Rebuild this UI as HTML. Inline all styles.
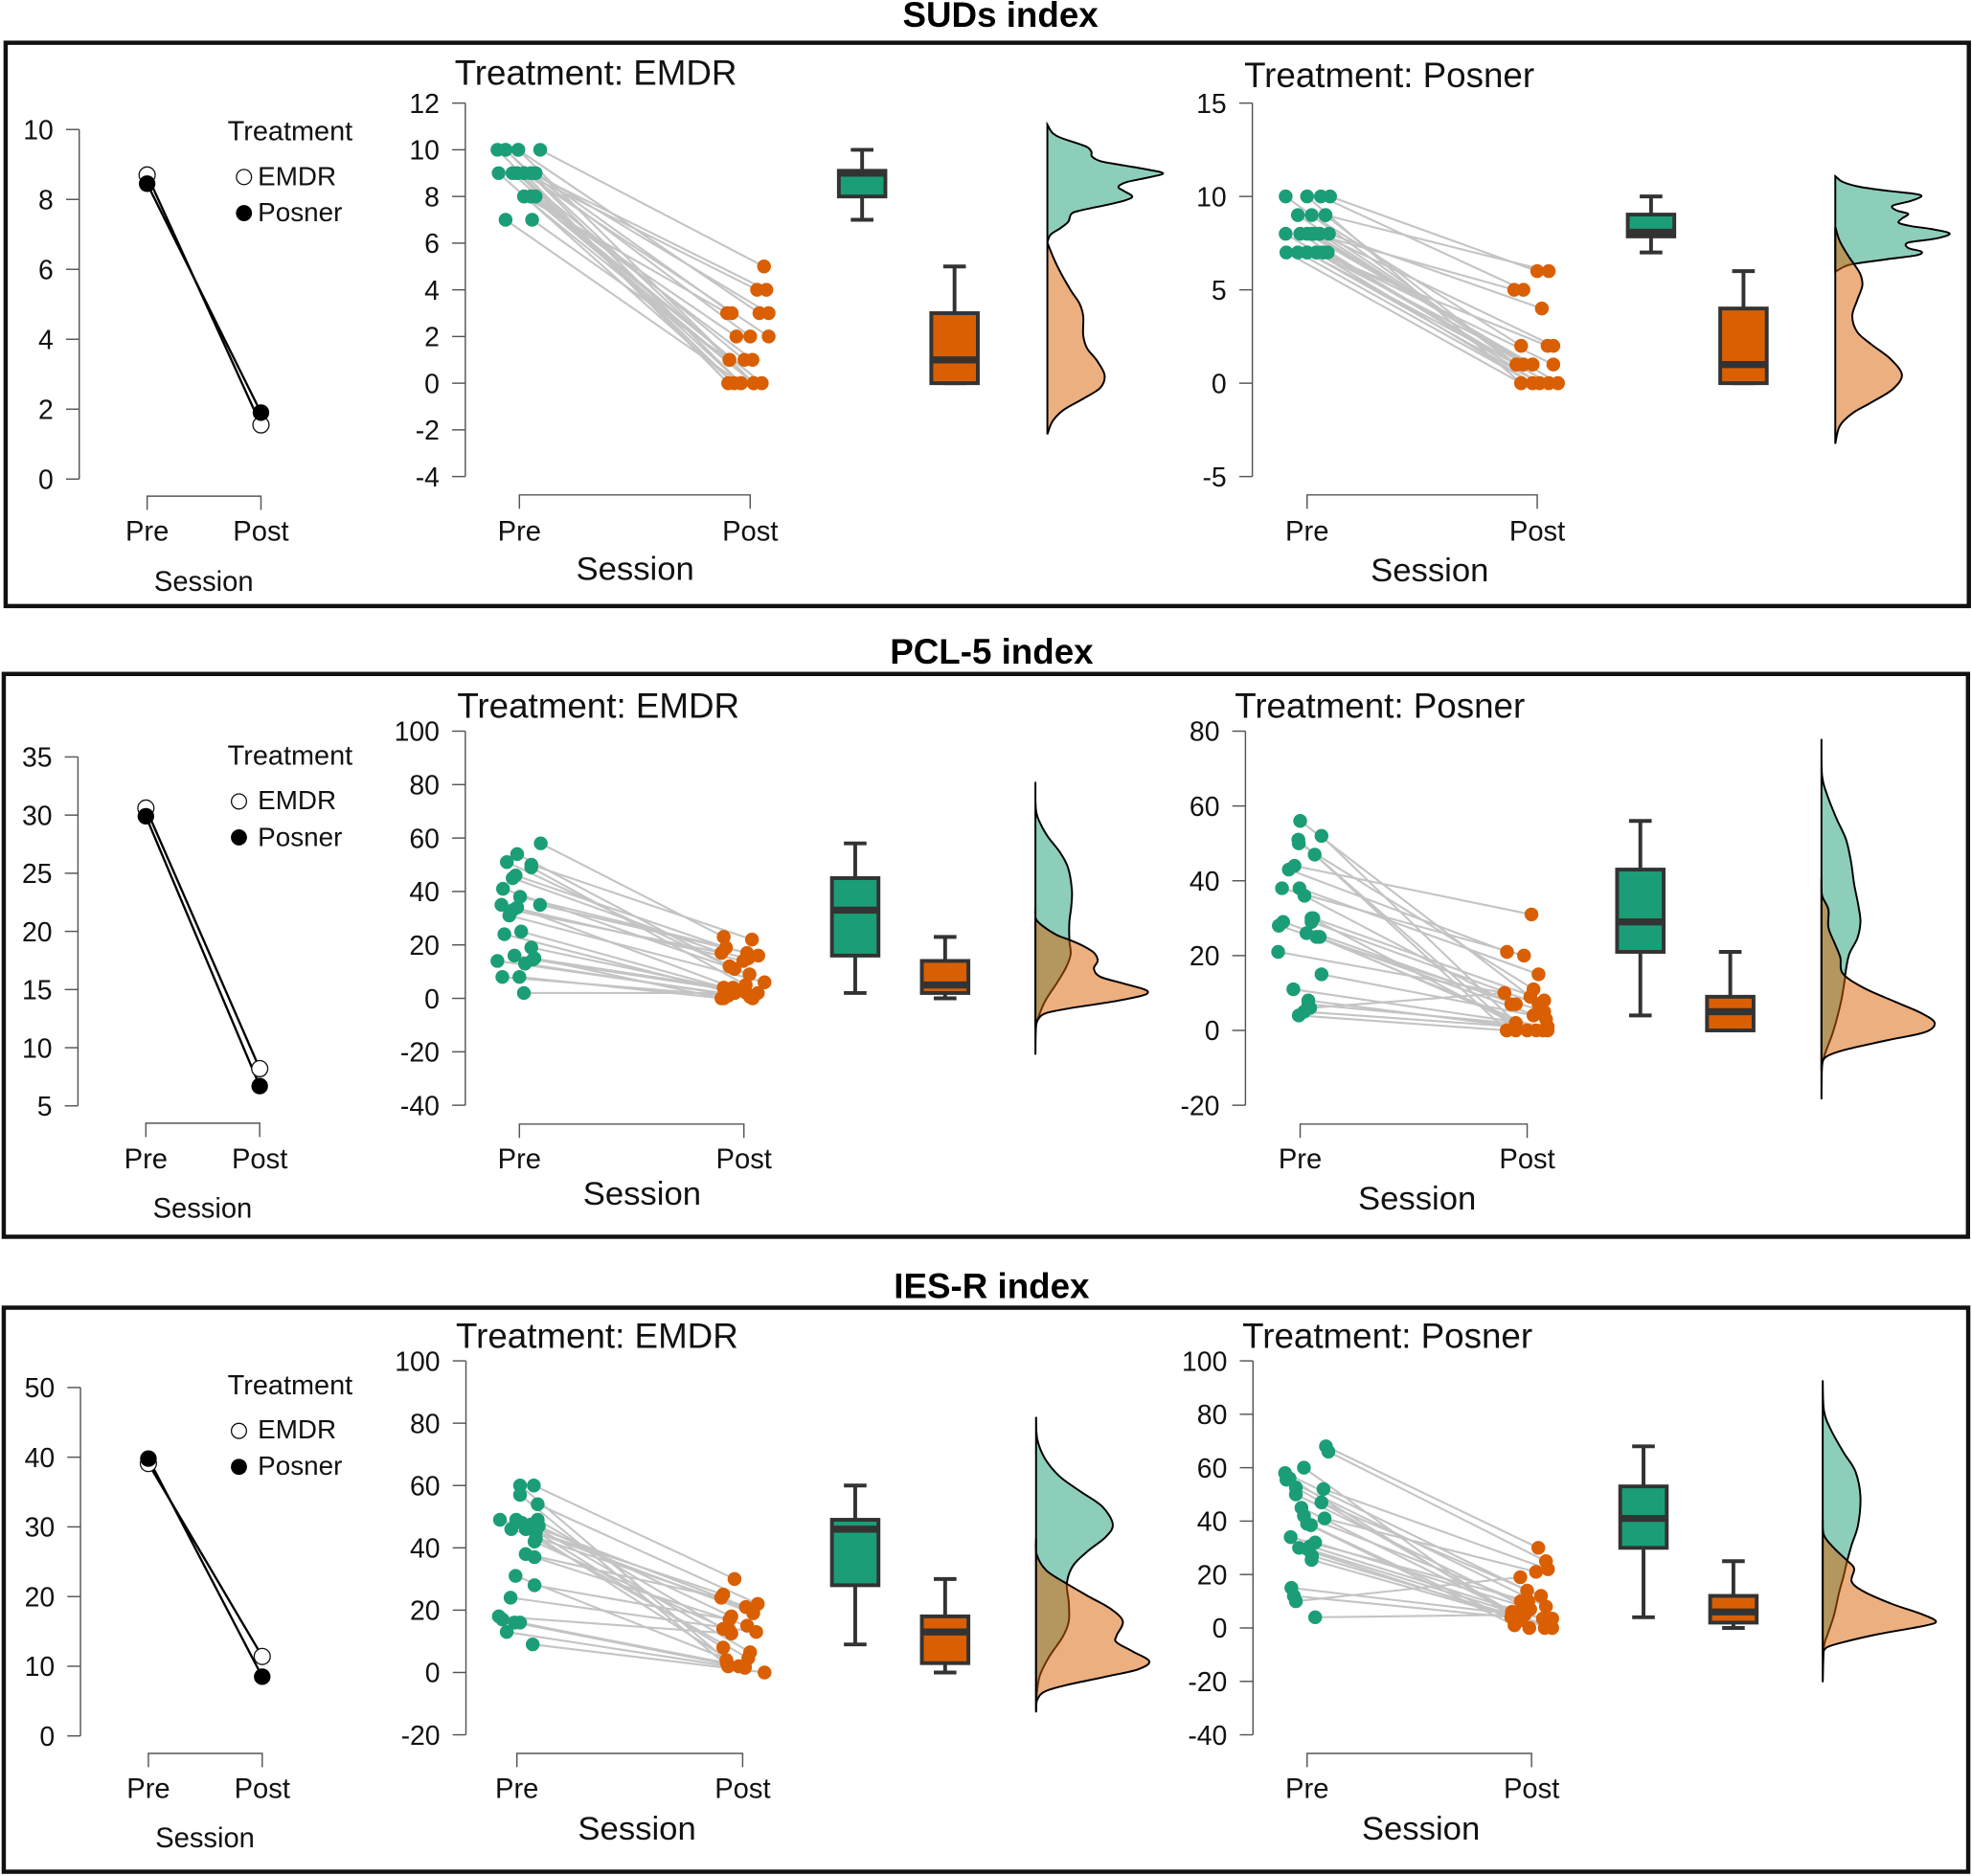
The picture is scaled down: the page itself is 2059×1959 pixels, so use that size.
<!DOCTYPE html>
<html lang="en">
<head>
<meta charset="utf-8">
<title>SUDs, PCL-5 and IES-R index raincloud plots</title>
<style>
html,body{margin:0;padding:0;background:#fff}
svg{display:block}
text{font-family:"Liberation Sans",Arial,sans-serif;fill:#111}
.hdr{font-size:28px;font-weight:bold;text-anchor:middle;fill:#000}
.ptitle{font-size:28px}
.big{font-size:26.4px;text-anchor:middle}
.sm{font-size:21.2px}
.lt{font-size:22px}
.smc{font-size:22.2px;text-anchor:middle}
.frame{fill:none;stroke:#111;stroke-width:3.4}
</style>
</head>
<body>
<svg id="chart" xmlns="http://www.w3.org/2000/svg" width="2059" height="1959" viewBox="0 0 1568 1492" preserveAspectRatio="none">
  <rect x="0" y="0" width="1568" height="1492" fill="#fff"/>

  <text class="hdr" x="795.5" y="21.5">SUDs index</text>
  <rect class="frame" x="4.5" y="34" width="1561" height="448"/>
  <text class="ptitle" x="361.5" y="67.5">Treatment: EMDR</text>
  <text class="ptitle" x="989.3" y="69.4">Treatment: Posner</text>
  <text class="big" x="505" y="461">Session</text>
  <text class="big" x="1136.8" y="462.4">Session</text>
  <text class="smc" x="162" y="470">Session</text>
  <text class="lt" x="181" y="111.4">Treatment</text>
  <text class="sm" x="205" y="147.4">EMDR</text>
  <text class="sm" x="205" y="176">Posner</text>
  <circle cx="194" cy="140.8" r="6" fill="#fff" stroke="#111" stroke-width="1"/>
  <circle cx="194" cy="169.5" r="6.4" fill="#000"/>

  <text class="hdr" x="788.5" y="527.8">PCL-5 index</text>
  <rect class="frame" x="3" y="536" width="1561.8" height="447.6"/>
  <text class="ptitle" x="363.5" y="570.8">Treatment: EMDR</text>
  <text class="ptitle" x="981.8" y="570.8">Treatment: Posner</text>
  <text class="big" x="510.5" y="958">Session</text>
  <text class="big" x="1126.8" y="962">Session</text>
  <text class="smc" x="161" y="968.5">Session</text>
  <text class="lt" x="181" y="608">Treatment</text>
  <text class="sm" x="205" y="643.4">EMDR</text>
  <text class="sm" x="205" y="672.7">Posner</text>
  <circle cx="190" cy="637.4" r="6" fill="#fff" stroke="#111" stroke-width="1"/>
  <circle cx="190" cy="666" r="6.4" fill="#000"/>

  <text class="hdr" x="788.5" y="1032.2">IES-R index</text>
  <rect class="frame" x="3" y="1040" width="1562" height="448.6"/>
  <text class="ptitle" x="362.5" y="1071.9">Treatment: EMDR</text>
  <text class="ptitle" x="987.8" y="1071.9">Treatment: Posner</text>
  <text class="big" x="506.5" y="1463">Session</text>
  <text class="big" x="1129.8" y="1463">Session</text>
  <text class="smc" x="163" y="1469.3">Session</text>
  <text class="lt" x="181" y="1109">Treatment</text>
  <text class="sm" x="205" y="1144">EMDR</text>
  <text class="sm" x="205" y="1173">Posner</text>
  <circle cx="190" cy="1138" r="6" fill="#fff" stroke="#111" stroke-width="1"/>
  <circle cx="190" cy="1166.6" r="6.4" fill="#000"/>
</svg>

<script>
// ---------- shared categories ----------
const sessionLabels = ['Pre', 'Post'];

// ---------- SUDs: means panel ----------
const sudsMeanTicks = [10, 8, 6, 4, 2, 0];
const sudsMeansEmdr = [8.7, 1.55];
const sudsMeansPosner = [8.45, 1.9];

// ---------- SUDs: EMDR ----------
const sudsEmdrTicks = [12, 10, 8, 6, 4, 2, 0, -2, -4];
const sudsEmdrPre = [10,10,10,10,9,9,9,9,9,9,9,9,9,8,8,8,8,8,7,7,9,9,8,8,10,10];
const sudsEmdrPreJitter = [-9.5,-6,-0.5,9,-9,-3,-1,2,5,7,2,5,7,2,5,7,2,5,-6,5.5,-1,2,5,7,-6,-0.5];
const sudsEmdrPost = [0,1,3,5,0,0,1,4,4,3,2,2,3,3,2,1,0,0,0,1,0,0,0,0,0,0];
const sudsEmdrPostJitter = [-9.5,-9,4,6,-7,-4,-2.5,3,7,8,8,0,-8,-10,-6,1,1.5,5,-4,-9,-7,-9.5,1.5,5,-4,1.5];
const sudsEmdrPreBox = [7, 8, 9, 9.1, 10];
const sudsEmdrPostBox = [0, 0, 1, 3, 5];
const sudsEmdrPreDensityAt = [11.08,10.74,10.53,10.29,10.12,9.92,9.71,9.5,9.33,9.14,8.99,8.82,8.62,8.41,8.23,8,7.82,7.62,7.39,7.25,6.91,6.63,6.36,6.02];
const sudsEmdrPreDensity = [0,7.6,20,46,63,70,71,86,122,162,184,162,127,113,122,135,122,91,51,38,33,20,5,0];
const sudsEmdrPostDensityAt = [6.02,5.06,4.03,3.42,2.87,2.05,1.5,0.96,0.34,-0.2,-0.68,-1.16,-1.64,-2.19];
const sudsEmdrPostDensity = [0,15,36,51,57,57,63,79,91,84,56,25,8,0];

// ---------- SUDs: Posner ----------
const sudsPosnerTicks = [15, 10, 5, 0, -5];
const sudsPosnerPre = [10,10,10,10,9,9,9,8,8,8,8,8,8,7,7,7,7,7,7,8,8,7,7,7,8,9];
const sudsPosnerPreJitter = [-9.3,0,6,10,-4,2,8,-9.3,-3,0,3,5.5,9.5,-9,-4,0,4,7,9,2,5.5,0,4,7,3,8];
const sudsPosnerPost = [1,0,5,6,1,2,6,0,0,1,5,2,4,0,0,1,2,1,0,0,1,0,1,0,0,1];
const sudsPosnerPostJitter = [-9,-7,-6,0,-6,-7,5,-2,1,-2,-10,7,2,-7,-2,-9,4.5,7,5,9,-6,1,-2,5,9,-9];
const sudsPosnerPreBox = [7, 7.86, 8.08, 9.03, 10];
const sudsPosnerPostBox = [0, 0, 1, 4, 6];
const sudsPosnerPreDensityAt = [11.09,10.78,10.52,10.3,10.15,10.01,9.75,9.5,9.24,9.07,8.82,8.59,8.42,8.25,8.01,7.74,7.53,7.24,7.05,6.85,6.64,6.4,6.25,5.96];
const sudsPosnerPreDensity = [0,12,38,84,124,137,119,91,98,116,106,101,119,154,182,159,116,116,137,129,83,32,15,0];
const sudsPosnerPostDensityAt = [8.38,7.62,6.85,6.37,5.82,5.22,4.46,3.6,2.74,2.06,1.29,0.44,-0.33,-1.02,-1.62,-2.3,-3.24];
const sudsPosnerPostDensity = [0,7,20,30,40,43,35,27,35,58,88,106,91,58,27,7,0];

// ---------- PCL-5: means panel ----------
const pclMeanTicks = [35, 30, 25, 20, 15, 10, 5];
const pclMeansEmdr = [30.6, 8.2];
const pclMeansPosner = [29.9, 6.7];

// ---------- PCL-5: EMDR ----------
const pclEmdrTicks = [100, 80, 60, 40, 20, 0, -20, -40];
const pclEmdrPre = [58,54,51,50,49,46,45,41,38,35,35,34,33,31,25,24,19,16,15,14,13,8,8,2,14.5];
const pclEmdrPreJitter = [9.5,-1,-5.6,5.3,5.3,-1.7,-3,-7.3,0.3,-8,9.2,-1,-3,-4.5,0.8,-6.7,5.3,-2.2,6.7,-9.8,2.5,-7.6,0,2,6];
const pclEmdrPost = [23,11,12,22,5,19,17,9,16,14,17,4,15,6,4,2.5,2,2,0,0.5,0,1,0,2,3];
const pclEmdrPostJitter = [-9,-4.2,-6.4,3.6,0.8,-8,-10,2.5,6.4,-0.3,1.4,-4.8,2,9.2,-9,-7,1.1,6.2,-10,2.8,3.9,-7,-9,-4,-5];
const pclEmdrPreBox = [2, 16, 33, 45, 58];
const pclEmdrPostBox = [0, 2, 5, 14, 23];
const pclEmdrPreDensityAt = [81,70.3,64.9,60.1,54.7,48.8,40.4,34.4,28.5,21.9,16.5,11.7,5.7,-0.8,-6.2,-10.4,-21.1];
const pclEmdrPreDensity = [0,1,9,21,39,52,58,57,54,54,56,49,34,16,6,1,0];
const pclEmdrPostDensityAt = [33.8,29.6,26.7,23.7,21.9,19.5,17.1,14.1,11.1,8.1,5.7,3.7,2.4,1,-1.4,-3.8,-5.6,-8,-11];
const pclEmdrPostDensity = [0,1,14,34,54,77,93,99,93,103,138,169,179,169,118,52,16,4,0];

// ---------- PCL-5: Posner ----------
const pclPosnerTicks = [80, 60, 40, 20, 0, -20];
const pclPosnerPre = [56,52,51,50,47,44,43,38,38,36,30,30,29,29,28,26,25,25,21,15,11,8,7,6,5,4];
const pclPosnerPreJitter = [0,9.4,-0.8,-0.6,6.4,-2.5,-5,-8,-0.3,1.9,5.8,5,5,-7.5,-9.4,2.8,8.6,7.2,-9.7,9.4,-3,3.6,3.6,4.4,1.7,-0.6];
const pclPosnerPost = [9,2,0,11,0,31,21,20,15,7,8,0,7,7,5,3,0,0,10,4,1,0,1,10,1,0];
const pclPosnerPostJitter = [1.4,-5,-9,2.8,-5,1.9,-8.9,-1.4,5,-7,7.5,0,5,-5,7.5,8.3,4,7,-10,2.8,9,9,9,-10,-5,-9];
const pclPosnerPreBox = [4, 21, 29, 43, 56];
const pclPosnerPostBox = [0, 0, 5, 9, 21];
const pclPosnerPreDensityAt = [77.9,68.1,63,56.6,51.1,45.1,39.1,33.1,28.9,24.6,20.3,15.2,13.5,7.6,-0.1,-6.1,-9.5,-18.4];
const pclPosnerPreDensity = [0,1,9,24,39,47,52,59,62,57,44,38,37,31,19,6,1,0];
const pclPosnerPostDensityAt = [40.8,36.1,32.3,27.6,23.3,19.5,15.2,11.4,7.6,4.6,2,-0.5,-2.7,-5.2,-6.9,-8.7,-10.8];
const pclPosnerPostDensity = [0,1,11,11,21,30,34,67,118,159,180,164,103,37,9,1,0];

// ---------- IES-R: means panel ----------
const iesMeanTicks = [50, 40, 30, 20, 10, 0];
const iesMeansEmdr = [39.1, 11.4];
const iesMeansPosner = [39.8, 8.5];

// ---------- IES-R: EMDR ----------
const iesEmdrTicks = [100, 80, 60, 40, 20, 0, -20];
const iesEmdrPre = [60,60,57,54,49,49,49,48,47.5,46,46,47,45,43,42,38,37,31,28,24,18,17,16,16,13,9];
const iesEmdrPreJitter = [1.4,7.5,1.4,9.2,-7.5,-0.3,9.2,2.2,6.4,-2.5,3.9,9.7,8.4,8.4,7.8,3.9,7.8,-0.6,7.8,-2.8,-8,-6.4,1.4,-1,-4.5,7];
const iesEmdrPost = [4,30,2,22,25,21,14,8,6.5,20,2,18,19,4.6,13.5,24,15,2,17,13,12.5,3,2,1.5,2,0];
const iesEmdrPostJitter = [-7.2,-3.6,-6.4,6.7,-8.6,1.4,-8.6,-8.6,3.3,4.5,-1.7,-5,4.7,2.5,-5.8,-9.5,2,1,-5.8,6,-5,-7,-1.7,1,-6.4,9.7];
const iesEmdrPreBox = [9, 28, 46, 49, 60];
const iesEmdrPostBox = [0, 3, 13, 18, 30];
const iesEmdrPreDensityAt = [82,74.8,68.7,63,57.9,53.3,47.6,43.5,38.9,34.3,28.7,22.6,16.4,11.3,5.1,-1,-7.2,-12.8];
const iesEmdrPreDensity = [0,2,14,37,72,105,122,111,82,59,49,52,52,42,21,6,1,0];
const iesEmdrPostDensityAt = [43,37.9,32.8,28.7,24.6,20.5,16.4,11.8,9.7,6.7,3.6,1,-1.5,-4.1,-6.1,-8.7,-12.3];
const iesEmdrPostDensity = [0,1,16,47,82,118,138,128,128,154,180,162,107,47,14,2,0];

// ---------- IES-R: Posner ----------
const iesPosnerTicks = [100, 80, 60, 40, 20, 0, -20, -40];
const iesPosnerPre = [68,66,60,58,56,55.5,52,52.6,50,47,45,42,41,39,38.5,34,32,30.6,30,29.6,27,25.5,15,12,10,4];
const iesPosnerPreJitter = [8.4,9.5,-1.4,-9.8,-7.8,-9.2,7.3,-5,-5,6.4,-2.5,-1.4,7.8,0,1.7,-7.3,3.6,1.4,-3.6,0,2.2,2,-7,-5.9,-5,3.6];
const iesPosnerPost = [30,25,4,14,3,8,22,6,7,12,0,10,21,1,0,10,8,3.5,3,6,1,0,3.5,4,19,5];
const iesPosnerPostJitter = [3,6.4,-9,-2,-4.8,6.4,7.3,-8.7,-0.6,4.2,5.9,-4.8,2,-7.6,-1,-1.4,-3.4,5,-4.8,-8.7,7.3,9.2,9.2,-9,-5,-3];
const iesPosnerPreBox = [4, 30, 41, 53, 68];
const iesPosnerPostBox = [0, 2, 6, 12, 25];
const iesPosnerPreDensityAt = [92.7,81.3,74.2,65.8,58.6,49.1,38.3,31.1,25.2,19.2,13.2,4.8,-2.3,-7.1,-20.3];
const iesPosnerPreDensity = [0,2,13,33,52,60,56,46,39,33,26,18,8,2,0];
const iesPosnerPostDensityAt = [40.7,34.7,29.9,25.2,22.2,17.4,13.8,9,5.4,2.5,0.7,-2.3,-5.3,-7.1,-8.9,-10.7];
const iesPosnerPostDensity = [0,2,18,39,50,46,64,110,155,180,160,89,33,8,1,0];

// ---------- drawing ----------
const SVGNS = 'http://www.w3.org/2000/svg';
const svgRoot = document.getElementById('chart');
const GREEN = '#1b9e77';
const ORANGE = '#d95f02';
const AXIS = '#555';
const DARK = '#333';

function mk(parent, tag, attrs) {
  const node = document.createElementNS(SVGNS, tag);
  for (const k in attrs) node.setAttribute(k, attrs[k]);
  parent.appendChild(node);
  return node;
}
function linear(d0, d1, r0, r1) {
  return v => r0 + (v - d0) / (d1 - d0) * (r1 - r0);
}

function drawYAxis(g, ticks, sy, axisX) {
  const axisLine = mk(g, 'line', {x1: axisX, x2: axisX, y1: sy(ticks[0]), y2: sy(ticks[ticks.length - 1]), stroke: AXIS, 'stroke-width': 1.1});
  
  
  ticks.forEach(t => {
    const tick = mk(g, 'line', {x1: axisX - 10.5, x2: axisX, y1: sy(t), y2: sy(t), stroke: AXIS, 'stroke-width': 1.1});
    
    
    const label = mk(g, 'text', {x: axisX - 20.5, y: sy(t) + 7.8, 'text-anchor': 'end', 'font-size': 21.6});
    label.textContent = String(t);
    
    
  });
}

function drawXAxis(g, preX, postX, bracketY, labelY) {
  const bracket = mk(g, 'path', {d: 'M' + preX + ' ' + (bracketY + 11) + 'V' + bracketY + 'H' + postX + 'V' + (bracketY + 11), fill: 'none', stroke: AXIS, 'stroke-width': 1.1});
  
  
  sessionLabels.forEach((s, i) => {
    const label = mk(g, 'text', {x: i === 0 ? preX : postX, y: labelY, 'text-anchor': 'middle', 'font-size': 22.2});
    label.textContent = s;
    
    
  });
}

function drawMeans(cfg) {
  const g = mk(svgRoot, 'g', {});
  
  
  const sy = linear(cfg.ticks[0], cfg.ticks[cfg.ticks.length - 1], cfg.yTop, cfg.yBottom);
  drawYAxis(g, cfg.ticks, sy, cfg.axisX);
  drawXAxis(g, cfg.preX, cfg.postX, cfg.bracketY, cfg.labelY);
  const emdrLine = mk(g, 'line', {x1: cfg.preX, x2: cfg.postX, y1: sy(cfg.emdr[0]), y2: sy(cfg.emdr[1]), stroke: '#000', 'stroke-width': 1.8});
  
  
  const posnerLine = mk(g, 'line', {x1: cfg.preX, x2: cfg.postX, y1: sy(cfg.posner[0]), y2: sy(cfg.posner[1]), stroke: '#000', 'stroke-width': 1.8});
  
  
  cfg.emdr.forEach((v, i) => {
    const c = mk(g, 'circle', {cx: i === 0 ? cfg.preX : cfg.postX, cy: sy(v), r: 6.4, fill: '#fff', stroke: '#111', 'stroke-width': 1});
    
    
  });
  cfg.posner.forEach((v, i) => {
    const c = mk(g, 'circle', {cx: i === 0 ? cfg.preX : cfg.postX, cy: sy(v), r: 6.6, fill: '#000'});
    
    
  });
}

function drawBox(g, stats, cx, sy, fill, seriesName) {
  const halfBox = 18.5, halfCap = 9;
  const [lo, q1, med, q3, hi] = stats;
  const whisker = mk(g, 'path', {d: 'M' + cx + ' ' + sy(hi) + 'V' + sy(q3) + 'M' + cx + ' ' + sy(q1) + 'V' + sy(lo) + 'M' + (cx - halfCap) + ' ' + sy(hi) + 'H' + (cx + halfCap) + 'M' + (cx - halfCap) + ' ' + sy(lo) + 'H' + (cx + halfCap), fill: 'none', stroke: DARK, 'stroke-width': 3});
  
  
  const box = mk(g, 'rect', {x: cx - halfBox, y: sy(q3), width: halfBox * 2, height: sy(q1) - sy(q3), fill: fill, stroke: DARK, 'stroke-width': 3});
  
  
  const median = mk(g, 'line', {x1: cx - halfBox, x2: cx + halfBox, y1: sy(med), y2: sy(med), stroke: DARK, 'stroke-width': 5.6});
  
  
}

function densityPath(at, dens, baseX, sy) {
  const pts = at.map((v, i) => [baseX + dens[i] * 0.5, sy(v)]);
  let d = 'M' + baseX + ' ' + pts[0][1].toFixed(1) + 'L' + pts[0][0].toFixed(1) + ' ' + pts[0][1].toFixed(1);
  for (let i = 0; i < pts.length - 1; i++) {
    const p0 = pts[Math.max(i - 1, 0)], p1 = pts[i], p2 = pts[i + 1], p3 = pts[Math.min(i + 2, pts.length - 1)];
    const c1x = p1[0] + (p2[0] - p0[0]) / 6, c1y = p1[1] + (p2[1] - p0[1]) / 6;
    const c2x = p2[0] - (p3[0] - p1[0]) / 6, c2y = p2[1] - (p3[1] - p1[1]) / 6;
    d += 'C' + c1x.toFixed(1) + ' ' + c1y.toFixed(1) + ' ' + c2x.toFixed(1) + ' ' + c2y.toFixed(1) + ' ' + p2[0].toFixed(1) + ' ' + p2[1].toFixed(1);
  }
  return d + 'L' + baseX + ' ' + pts[pts.length - 1][1].toFixed(1) + 'Z';
}

function drawRain(cfg) {
  const g = mk(svgRoot, 'g', {});
  
  
  const sy = linear(cfg.ticks[0], cfg.ticks[cfg.ticks.length - 1], cfg.yTop, cfg.yBottom);
  const sx = linear(0, 100, cfg.preX, cfg.postX);
  drawYAxis(g, cfg.ticks, sy, cfg.axisX);
  drawXAxis(g, cfg.preX, cfg.postX, cfg.bracketY, cfg.labelY);

  cfg.pre.forEach((v, i) => {
    const link = mk(g, 'line', {x1: sx(cfg.preJitter[i]), y1: sy(v), x2: sx(100 + cfg.postJitter[i]), y2: sy(cfg.post[i]), stroke: '#c4c4c4', 'stroke-width': 1.6});
    
    
  });
  cfg.pre.forEach((v, i) => {
    const dot = mk(g, 'circle', {cx: sx(cfg.preJitter[i]), cy: sy(v), r: 5.5, fill: GREEN});
    
    
  });
  cfg.post.forEach((v, i) => {
    const dot = mk(g, 'circle', {cx: sx(100 + cfg.postJitter[i]), cy: sy(v), r: 5.5, fill: ORANGE});
    
    
  });

  drawBox(g, cfg.preBox, cfg.boxPreX, sy, GREEN, 'pre');
  drawBox(g, cfg.postBox, cfg.boxPostX, sy, ORANGE, 'post');

  const preCloud = mk(g, 'path', {d: densityPath(cfg.preAt, cfg.preDens, cfg.cloudX, sy), fill: GREEN, 'fill-opacity': 0.5, stroke: '#000', 'stroke-width': 1.5});
  
  
  const postCloud = mk(g, 'path', {d: densityPath(cfg.postAt, cfg.postDens, cfg.cloudX, sy), fill: ORANGE, 'fill-opacity': 0.5, stroke: '#000', 'stroke-width': 1.5});
  
  
}

// ---------- SUDs row ----------
drawMeans({name: 'suds', ticks: sudsMeanTicks, emdr: sudsMeansEmdr, posner: sudsMeansPosner, axisX: 63, yTop: 103, yBottom: 381, preX: 117, postX: 207.5, bracketY: 394.6, labelY: 430});
drawRain({name: 'suds-emdr', ticks: sudsEmdrTicks, axisX: 370, yTop: 82, yBottom: 379, preX: 413, postX: 596.5, bracketY: 393.6, labelY: 430,
  pre: sudsEmdrPre, preJitter: sudsEmdrPreJitter, post: sudsEmdrPost, postJitter: sudsEmdrPostJitter, preBox: sudsEmdrPreBox, postBox: sudsEmdrPostBox, boxPreX: 685.5, boxPostX: 759, cloudX: 832.8,
  preAt: sudsEmdrPreDensityAt, preDens: sudsEmdrPreDensity, postAt: sudsEmdrPostDensityAt, postDens: sudsEmdrPostDensity});
drawRain({name: 'suds-posner', ticks: sudsPosnerTicks, axisX: 995.8, yTop: 82, yBottom: 379, preX: 1039.3, postX: 1222.3, bracketY: 393.6, labelY: 430,
  pre: sudsPosnerPre, preJitter: sudsPosnerPreJitter, post: sudsPosnerPost, postJitter: sudsPosnerPostJitter, preBox: sudsPosnerPreBox, postBox: sudsPosnerPostBox, boxPreX: 1312.8, boxPostX: 1386.3, cloudX: 1459.3,
  preAt: sudsPosnerPreDensityAt, preDens: sudsPosnerPreDensity, postAt: sudsPosnerPostDensityAt, postDens: sudsPosnerPostDensity});

// ---------- PCL-5 row ----------
drawMeans({name: 'pcl', ticks: pclMeanTicks, emdr: pclMeansEmdr, posner: pclMeansPosner, axisX: 62, yTop: 602, yBottom: 879.5, preX: 116, postX: 206.5, bracketY: 893.3, labelY: 929.3});
drawRain({name: 'pcl-emdr', ticks: pclEmdrTicks, axisX: 370, yTop: 581.5, yBottom: 879, preX: 413, postX: 591.5, bracketY: 894, labelY: 929.3,
  pre: pclEmdrPre, preJitter: pclEmdrPreJitter, post: pclEmdrPost, postJitter: pclEmdrPostJitter, preBox: pclEmdrPreBox, postBox: pclEmdrPostBox, boxPreX: 680, boxPostX: 751.5, cloudX: 823.3,
  preAt: pclEmdrPreDensityAt, preDens: pclEmdrPreDensity, postAt: pclEmdrPostDensityAt, postDens: pclEmdrPostDensity});
drawRain({name: 'pcl-posner', ticks: pclPosnerTicks, axisX: 990.3, yTop: 581.5, yBottom: 879, preX: 1033.8, postX: 1214.3, bracketY: 894, labelY: 929.3,
  pre: pclPosnerPre, preJitter: pclPosnerPreJitter, post: pclPosnerPost, postJitter: pclPosnerPostJitter, preBox: pclPosnerPreBox, postBox: pclPosnerPostBox, boxPreX: 1304.3, boxPostX: 1375.8, cloudX: 1448.3,
  preAt: pclPosnerPreDensityAt, preDens: pclPosnerPreDensity, postAt: pclPosnerPostDensityAt, postDens: pclPosnerPostDensity});

// ---------- IES-R row ----------
drawMeans({name: 'ies', ticks: iesMeanTicks, emdr: iesMeansEmdr, posner: iesMeansPosner, axisX: 64, yTop: 1103.5, yBottom: 1380.6, preX: 118, postX: 208.5, bracketY: 1394.5, labelY: 1430});
drawRain({name: 'ies-emdr', ticks: iesEmdrTicks, axisX: 370.5, yTop: 1082.3, yBottom: 1379.7, preX: 411, postX: 590.5, bracketY: 1394.5, labelY: 1430,
  pre: iesEmdrPre, preJitter: iesEmdrPreJitter, post: iesEmdrPost, postJitter: iesEmdrPostJitter, preBox: iesEmdrPreBox, postBox: iesEmdrPostBox, boxPreX: 680, boxPostX: 751.5, cloudX: 823.8,
  preAt: iesEmdrPreDensityAt, preDens: iesEmdrPreDensity, postAt: iesEmdrPostDensityAt, postDens: iesEmdrPostDensity});
drawRain({name: 'ies-posner', ticks: iesPosnerTicks, axisX: 996.3, yTop: 1082.3, yBottom: 1379.7, preX: 1039.3, postX: 1217.8, bracketY: 1394.5, labelY: 1430,
  pre: iesPosnerPre, preJitter: iesPosnerPreJitter, post: iesPosnerPost, postJitter: iesPosnerPostJitter, preBox: iesPosnerPreBox, postBox: iesPosnerPostBox, boxPreX: 1306.8, boxPostX: 1378.3, cloudX: 1449.3,
  preAt: iesPosnerPreDensityAt, preDens: iesPosnerPreDensity, postAt: iesPosnerPostDensityAt, postDens: iesPosnerPostDensity});
</script>
</body>
</html>
